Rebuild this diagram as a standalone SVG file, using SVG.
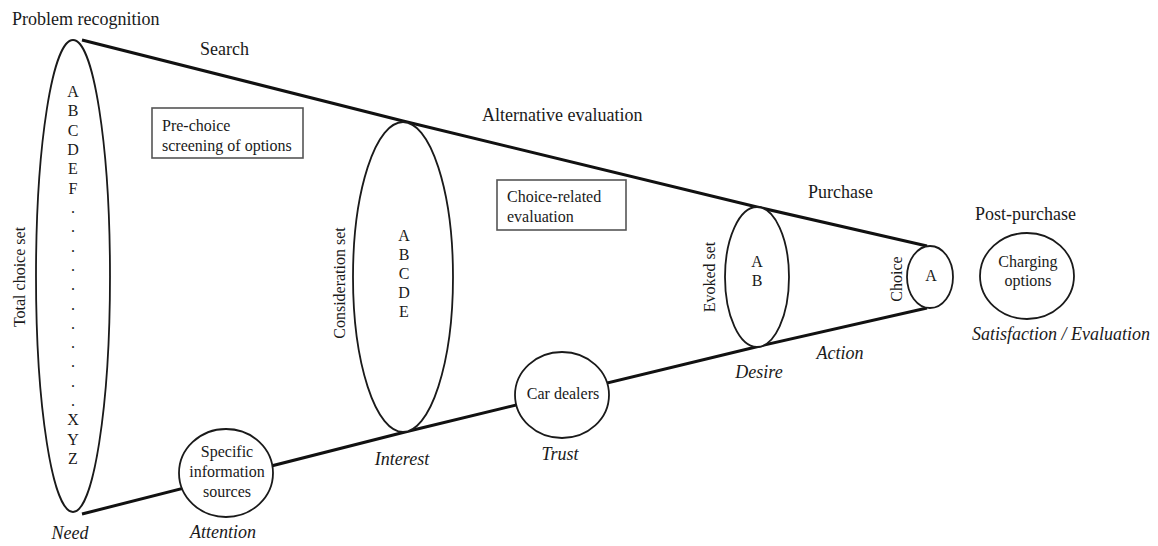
<svg xmlns="http://www.w3.org/2000/svg" width="1158" height="546" viewBox="0 0 1158 546">
<style>
text{font-family:"Liberation Serif","Times New Roman",serif;fill:#1a1a1a}
.lbl{font-size:18px}
.it{font-size:18px;font-style:italic;text-anchor:middle}
.sm{font-size:16px}
.mid{text-anchor:middle}
.shape{fill:#fff;stroke:#1a1a1a;stroke-width:1.8}
.box{fill:#fff;stroke:#555;stroke-width:1.6}
.funnel{fill:none;stroke:#111;stroke-width:3;stroke-linejoin:round}
</style>
<rect width="1158" height="546" fill="#fff"/>
<g id="connectors">
<polyline class="funnel" points="82,40 403,121 757,207 927,246"/>
<polyline class="funnel" points="82,514 405,432 760,346 927,308"/>
</g>
<g id="total-choice-set">
<ellipse class="shape" cx="73" cy="276" rx="37" ry="236"/>
<g class="sm mid">
<text x="73" y="97">A</text><text x="73" y="116.3">B</text><text x="73" y="135.6">C</text><text x="73" y="154.9">D</text><text x="73" y="174.3">E</text><text x="73" y="193.6">F</text>
<text x="73" y="212.9">.</text><text x="73" y="232.2">.</text><text x="73" y="251.5">.</text><text x="73" y="270.8">.</text><text x="73" y="290.2">.</text><text x="73" y="309.5">.</text><text x="73" y="328.8">.</text><text x="73" y="348.1">.</text><text x="73" y="367.4">.</text><text x="73" y="386.7">.</text><text x="73" y="406.1">.</text>
<text x="73" y="425.4">X</text><text x="73" y="444.7">Y</text><text x="73" y="464">Z</text>
</g>
<text class="sm mid" transform="translate(25,277) rotate(-90)">Total choice set</text>
</g>
<g id="consideration-set">
<ellipse class="shape" cx="403" cy="277" rx="50" ry="155"/>
<g class="sm mid">
<text x="404" y="241">A</text><text x="404" y="260">B</text><text x="404" y="279">C</text><text x="404" y="298">D</text><text x="404" y="317">E</text>
</g>
<text class="sm mid" transform="translate(345,283) rotate(-90)">Consideration set</text>
</g>
<g id="evoked-set">
<ellipse class="shape" cx="757" cy="277" rx="32" ry="70"/>
<text class="sm mid" x="757" y="267">A</text>
<text class="sm mid" x="757" y="286">B</text>
<text class="sm mid" transform="translate(715,277) rotate(-90)">Evoked set</text>
</g>
<g id="choice">
<ellipse class="shape" cx="930" cy="277" rx="23" ry="31"/>
<text class="sm mid" x="931" y="281">A</text>
<text class="sm mid" transform="translate(902,279) rotate(-90)">Choice</text>
</g>
<g id="charging-options">
<ellipse class="shape" cx="1027" cy="276" rx="47" ry="43"/>
<text class="sm mid" x="1028" y="267">Charging</text>
<text class="sm mid" x="1028" y="286">options</text>
</g>
<g id="specific-information-sources">
<ellipse class="shape" cx="226" cy="473" rx="47" ry="44"/>
<text class="sm mid" x="227" y="457">Specific</text>
<text class="sm mid" x="227" y="477">information</text>
<text class="sm mid" x="227" y="497">sources</text>
</g>
<g id="car-dealers">
<ellipse class="shape" cx="562" cy="395" rx="47" ry="43"/>
<text class="sm mid" x="563" y="399">Car dealers</text>
</g>
<g id="pre-choice-box">
<rect class="box" x="152" y="108" width="151" height="50"/>
<text class="sm" x="162" y="131">Pre-choice</text>
<text class="sm" x="162" y="151">screening of options</text>
</g>
<g id="choice-related-box">
<rect class="box" x="497" y="180" width="129" height="50"/>
<text class="sm" x="507" y="202">Choice-related</text>
<text class="sm" x="507" y="222">evaluation</text>
</g>
<g id="stage-labels">
<text class="lbl" x="12" y="25">Problem recognition</text>
<text class="lbl" x="200" y="55">Search</text>
<text class="lbl" x="482" y="121">Alternative evaluation</text>
<text class="lbl" x="808" y="198">Purchase</text>
<text class="lbl" x="975" y="220">Post-purchase</text>
</g>
<g id="aida-labels">
<text class="it" x="70" y="539">Need</text>
<text class="it" x="223" y="538">Attention</text>
<text class="it" x="402" y="465">Interest</text>
<text class="it" x="560" y="460">Trust</text>
<text class="it" x="759" y="378">Desire</text>
<text class="it" x="840" y="359">Action</text>
<text class="it" x="1061" y="340">Satisfaction / Evaluation</text>
</g>
</svg>
